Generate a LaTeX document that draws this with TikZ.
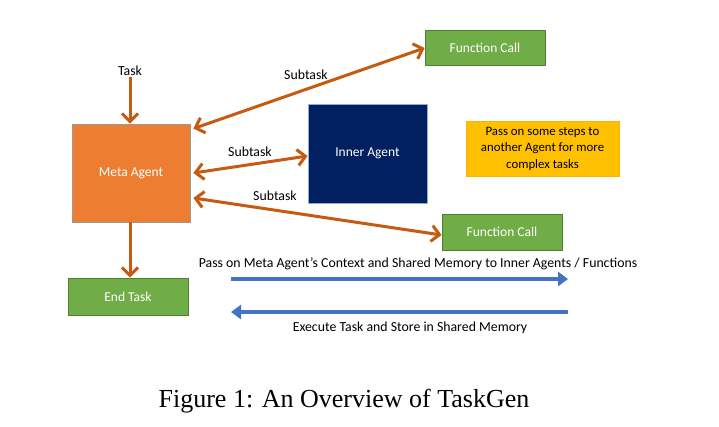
\documentclass[tikz,border=0pt]{standalone}
\usepackage{fontspec}
\setmainfont{Carlito}
\newfontfamily\capfont{Liberation Serif}
\usetikzlibrary{arrows.meta,calc}
\definecolor{morange}{HTML}{ED7D31}
\definecolor{aorange}{HTML}{C55A11}
\definecolor{navy}{HTML}{002060}
\definecolor{fgreen}{HTML}{70AD47}
\definecolor{fgreenb}{HTML}{507E32}
\definecolor{ayellow}{HTML}{FFC000}
\definecolor{ablue}{HTML}{4472C4}
\tikzset{
  box/.style={draw, line width=0.8pt, inner sep=2pt, align=center, font=\fontsize{13.5}{15}\selectfont},
  metabox/.style={box, fill=morange, draw=gray!80, text=white, minimum width=118pt, minimum height=98pt},
  innerbox/.style={box, fill=navy, draw=ablue!60, text=white, minimum width=119pt, minimum height=99pt},
  fcbox/.style={box, fill=fgreen, draw=fgreenb, text=white, minimum width=120pt, minimum height=35pt},
  notebox/.style={box, fill=ayellow, draw=ayellow!80!orange, text=black, minimum width=153pt, minimum height=55pt, font=\fontsize{12.8}{16.5}\selectfont},
  lbl/.style={font=\fontsize{13.8}{16}\selectfont, text=black, inner sep=1pt},
  oarrow/.style={draw=aorange, line width=3pt, -{Straight Barb[length=8pt,width=16pt,line width=3pt]}},
  odarrow/.style={draw=aorange, line width=3pt, {Straight Barb[length=8pt,width=16pt,line width=3pt]}-{Straight Barb[length=8pt,width=16pt,line width=3pt]}},
  barrow/.style={draw=ablue, line width=3.5pt, -{Triangle[length=10pt,width=14pt]}}
}
\begin{document}
\begin{tikzpicture}[x=1pt,y=-1pt]
\useasboundingbox (0,0) rectangle (719,426);
\node[metabox] (meta) at (131,173) {Meta Agent};
\node[innerbox] (inner) at (367.5,153.5) {Inner Agent};
\node[fcbox] (fc1) at (485,47.5) {Function Call};
\node[fcbox, minimum height=36pt] (fc2) at (502,232) {Function Call};
\node[notebox] (note) at (542.5,148.5) {Pass on some steps to\\another Agent for more\\complex tasks};
\node[fcbox, minimum height=37pt] (end) at (128,296.5) {End Task};
\node[lbl] (task) at (130,71) {Task};
\node[lbl] (st1) at (306,75) {Subtask};
\node[lbl] (st2) at (250,152) {Subtask};
\node[lbl] (st3) at (275,196) {Subtask};
\node[lbl] (pass) at (418,264) {Pass on Meta Agent’s Context and Shared Memory to Inner Agents / Functions};
\node[lbl] (exec) at (410,328) {Execute Task and Store in Shared Memory};
\node[font=\capfont\fontsize{26}{30}\selectfont, inner sep=0pt] (cap) at (344,401) {Figure 1: An Overview of TaskGen};
\coordinate (b1s) at (231,279);
\coordinate (b1e) at (568,279);
\coordinate (b2s) at (568,312);
\coordinate (b2e) at (231,312);
\draw[oarrow] (task.south) -- (meta.north -| task.south);
\draw[oarrow] (meta.south -| task.south) -- (end.north -| task.south);
\draw[odarrow] ($(meta.north east)+(3,5)$) -- ($(fc1.west)+(0,0.5)$);
\draw[odarrow] ($(meta.east)+(3,0)$) -- ($(inner.west)+(0,2.5)$);
\draw[odarrow] ($(meta.east)+(3,25)$) -- ($(fc2.west)+(0,3)$);
\draw[barrow] (b1s) -- (b1e);
\draw[barrow] (b2s) -- (b2e);
\end{tikzpicture}
\end{document}
